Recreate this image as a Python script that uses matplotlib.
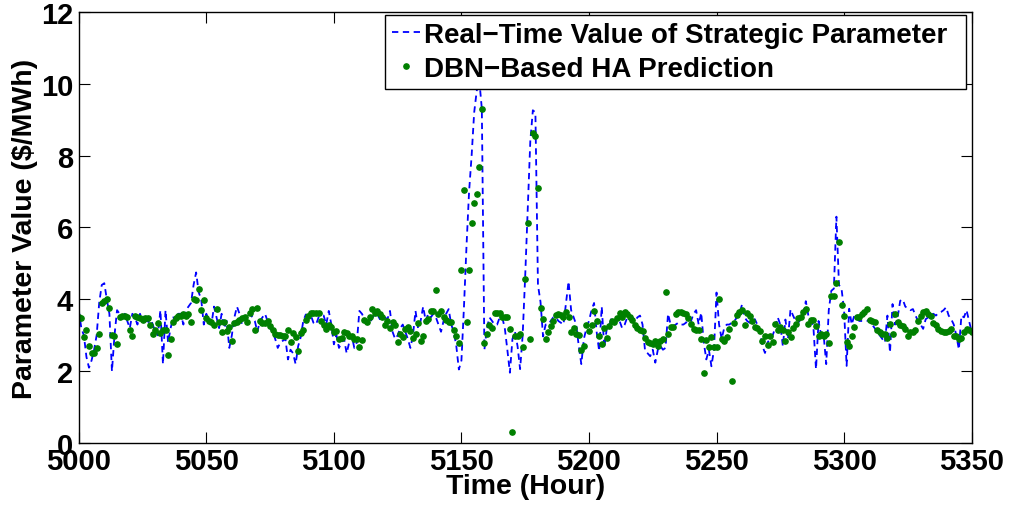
import matplotlib
matplotlib.use("Agg")
from matplotlib import pyplot as plt
import numpy as np

# hours on the x axis
hours = np.arange(5000, 5351)

# real-time value of the strategic parameter, one value per hour
real_value = [
    3.7, 3.2, 3.0, 2.4, 2.1, 2.3, 2.6, 3.0, 3.9, 4.4,
    4.45, 4.0, 3.6, 2.0, 3.0, 3.7, 3.6, 3.5, 3.6, 3.4,
    3.2, 3.6, 3.5, 3.3, 3.6, 3.4, 3.6, 3.3, 3.5, 3.3,
    3.1, 3.0, 3.7, 2.2, 3.7, 2.8, 3.2, 3.5, 3.4, 3.6,
    3.6, 3.3, 3.7, 3.8, 3.9, 4.4, 4.75, 4.2, 4.0, 3.3,
    3.6, 3.4, 3.3, 3.8, 3.5, 3.2, 3.6, 3.2, 3.4, 2.65,
    3.0, 3.5, 3.8, 3.6, 3.3, 3.45, 3.6, 3.65, 3.5, 3.4,
    3.1, 3.4, 3.5, 3.6, 3.4, 3.2, 3.1, 2.9, 2.65, 2.8,
    2.85, 2.9, 2.33, 2.6, 2.5, 2.2, 2.7, 2.95, 3.4, 3.58,
    3.55, 3.55, 3.35, 3.3, 3.5, 3.55, 3.55, 3.3, 3.68, 3.3,
    2.75, 3.0, 2.65, 2.8, 2.9, 2.5, 2.8, 3.0, 2.65, 2.8,
    3.68, 3.6, 3.45, 3.4, 3.3, 3.5, 3.55, 3.6, 3.45, 3.5,
    3.5, 3.45, 3.68, 3.1, 2.9, 3.0, 3.2, 3.3, 3.1, 2.9,
    2.65, 3.0, 3.68, 3.2, 3.4, 3.8, 3.4, 3.6, 3.5, 3.6,
    3.5, 3.3, 3.1, 3.4, 3.6, 3.73, 3.3, 3.1, 2.7, 2.05,
    2.3, 3.8, 5.5, 7.0, 8.0, 9.2, 9.8, 10.1, 9.3, 2.6,
    3.2, 3.5, 3.4, 3.3, 3.3, 3.5, 3.5, 3.2, 2.6, 1.96,
    2.9, 3.1, 2.7, 2.06, 3.0, 4.65, 6.5, 8.4, 9.26, 9.2,
    4.4, 3.93, 2.97, 3.3, 3.3, 3.4, 3.5, 3.5, 3.4, 3.35,
    3.3, 3.9, 4.5, 3.7, 3.5, 3.3, 2.7, 2.2, 2.9, 3.2,
    3.4, 3.7, 3.9, 3.1, 2.56, 3.8, 2.65, 3.2, 3.3, 3.5,
    3.4, 3.5, 3.4, 3.2, 3.3, 3.5, 3.55, 3.5, 3.4, 3.5,
    3.55, 3.3, 2.56, 2.5, 2.42, 2.6, 2.24, 2.6, 2.7, 2.6,
    2.65, 3.6, 3.3, 3.25, 3.3, 3.35, 3.3, 3.3, 3.35, 3.45,
    3.4, 3.6, 3.7, 3.3, 3.63, 2.8, 2.33, 2.6, 2.14, 2.6,
    4.19, 3.3, 2.9, 3.2, 3.3, 3.3, 3.35, 3.4, 3.5, 3.6,
    3.86, 3.5, 3.4, 3.35, 3.4, 3.45, 3.3, 3.1, 2.7, 2.51,
    2.8, 2.9, 3.0, 3.2, 3.5, 3.3, 2.7, 3.44, 2.9, 3.72,
    3.55, 3.4, 3.35, 3.45, 3.6, 3.95, 3.55, 3.5, 3.2, 2.06,
    3.4, 3.0, 3.0, 2.2, 3.7, 4.24, 4.3, 6.3, 4.4, 4.3,
    3.7, 2.15, 3.74, 3.3, 3.55, 3.45, 3.4, 3.4, 3.4, 3.4,
    3.45, 3.3, 3.2, 3.1, 3.0, 2.9, 2.8, 3.55, 2.52, 3.87,
    3.3, 3.5, 3.96, 4.0, 3.8, 3.75, 3.7, 3.73, 3.55, 3.4,
    3.3, 3.18, 3.45, 3.5, 3.55, 3.6, 3.55, 3.62, 3.65, 3.7,
    3.78, 3.55, 3.45, 3.3, 3.0, 2.61, 3.55, 3.5, 3.7, 3.4, 3.1,
]

# hour-ahead prediction from the DBN model
dbn_pred = [
    3.5, 3.47, 2.96, 3.14, 2.7, 2.5, 2.5, 2.64, 3.05, 3.9,
    3.95, 4.0, 3.77, 3.0, 2.98, 2.76, 3.5, 3.55, 3.55, 3.5,
    3.16, 2.98, 3.53, 3.5, 3.47, 3.44, 3.47, 3.47, 3.28, 3.05,
    3.16, 3.33, 3.07, 3.14, 3.16, 2.45, 2.9, 3.37, 3.49, 3.55,
    3.55, 3.58, 3.55, 3.6, 3.37, 4.0, 3.97, 4.28, 3.7, 3.97,
    3.47, 3.41, 3.38, 3.28, 3.72, 3.37, 3.09, 3.38, 3.12, 3.23,
    2.84, 3.33, 3.38, 3.43, 3.48, 3.52, 3.37, 3.61, 3.74, 3.14,
    3.77, 3.4, 3.35, 3.35, 3.39, 3.26, 3.15, 3.03, 3.0, 3.0,
    2.99, 2.98, 3.14, 2.81, 3.07, 2.95, 2.56, 3.07, 3.16, 3.44,
    3.55, 3.63, 3.61, 3.61, 3.61, 3.4, 3.3, 3.18, 3.28, 3.24,
    3.09, 3.12, 2.9, 2.93, 3.09, 3.07, 2.99, 2.98, 2.91, 2.89,
    2.68, 2.87, 3.44, 3.37, 3.51, 3.72, 3.63, 3.67, 3.58, 3.52,
    3.3, 3.4, 3.21, 3.37, 3.28, 2.81, 3.03, 2.95, 3.18, 3.24,
    3.12, 2.92, 3.05, 3.33, 2.85, 2.98, 3.41, 3.46, 3.69, 3.69,
    4.26, 3.6, 3.69, 3.5, 3.43, 3.36, 3.36, 3.16, 2.99, 2.79,
    4.83, 7.05, 3.36, 4.81, 6.12, 6.68, 6.93, 7.68, 9.3, 2.79,
    3.03, 3.28, 3.21, 3.63, 3.63, 3.63, 3.5, 3.5, 3.5, 3.18,
    0.3, 2.98, 2.98, 3.04, 2.67, 4.58, 6.12, 2.89, 8.63, 8.54,
    7.1, 3.76, 3.46, 2.9, 3.1, 3.25, 3.41, 3.56, 3.6, 3.56,
    3.5, 3.65, 3.5, 3.09, 3.2, 3.03, 3.0, 2.59, 2.7, 3.3,
    3.12, 3.29, 3.68, 3.4, 2.98, 2.77, 3.21, 2.93, 3.26, 3.4,
    3.38, 3.49, 3.61, 3.51, 3.66, 3.58, 3.52, 3.42, 3.3, 3.21,
    3.15, 3.12, 2.93, 2.81, 2.79, 2.77, 2.84, 2.7, 2.84, 2.9,
    4.21, 3.04, 3.24, 3.24, 3.58, 3.65, 3.66, 3.61, 3.58, 3.47,
    3.32, 3.18, 3.15, 3.16, 2.9, 1.96, 2.87, 2.67, 2.96, 2.68,
    2.67, 4.0, 2.9, 2.84, 2.95, 3.18, 1.73, 3.35, 3.56, 3.65,
    3.7, 3.28, 3.61, 3.55, 3.41, 3.24, 3.21, 3.12, 2.84, 2.98,
    2.72, 2.98, 2.81, 3.32, 3.16, 3.24, 3.15, 2.84, 3.09, 2.96,
    3.21, 3.32, 3.47, 3.5, 3.65, 3.72, 3.31, 3.43, 3.43, 3.25,
    2.99, 3.04, 2.99, 3.05, 2.8, 4.1, 4.1, 4.46, 5.61, 3.85,
    3.55, 2.82, 2.69, 2.97, 3.22, 3.5, 3.5, 3.59, 3.64, 3.73,
    3.43, 3.4, 3.36, 3.15, 3.08, 3.04, 3.04, 2.92, 3.31, 3.04,
    3.59, 3.38, 3.29, 3.27, 3.18, 2.99, 3.1, 3.08, 3.16, 3.4,
    3.55, 3.65, 3.68, 3.59, 3.53, 3.34, 3.29, 3.18, 3.13, 3.1,
    3.1, 3.13, 3.18, 2.99, 2.97, 2.9, 2.92, 3.08, 3.18, 3.16, 3.1,
]

plt.rcParams['font.family'] = ['Liberation Sans', 'DejaVu Sans']
plt.rcParams['font.weight'] = 'bold'

fig = plt.figure(figsize=(10.1, 5.1), dpi=100)
ax = fig.add_axes([0.078, 0.129, 0.884, 0.846])

ax.plot(hours, real_value, linestyle=(0, (3.5, 2.5)), color='#0000ff', linewidth=1.3,
        label='Real\u2212Time Value of Strategic Parameter')
ax.plot(hours, dbn_pred, linestyle='none', marker='o', markersize=3.8,
        color='#008000', label='DBN\u2212Based HA Prediction')

ax.set_xlim(5000, 5350)
ax.set_ylim(0, 12)
ax.set_xticks(range(5000, 5351, 50))
ax.set_yticks(range(0, 13, 2))
ax.tick_params(direction='in', length=8, width=0.8, top=True, right=True,
               labelsize=21)
ax.tick_params(axis='x', pad=3)
ax.tick_params(axis='y', pad=4)
for s in ax.spines.values():
    s.set_linewidth(1.0)

ax.set_xlabel('Time (Hour)', fontsize=20.5, fontweight='bold', labelpad=-2)
ax.set_ylabel('Parameter Value (\\$/MWh)', fontsize=20.5, fontweight='bold', labelpad=2)

# legend box stretched across the upper right part of the axes
leg = ax.legend(loc='upper left', bbox_to_anchor=(0.343, 0.993, 0.651, 0.0),
                mode='expand', fontsize=20, frameon=True, fancybox=False,
                framealpha=1, edgecolor='black', borderpad=0.25,
                handlelength=1.0, handletextpad=0.15, labelspacing=0.29,
                borderaxespad=0)
leg.get_frame().set_linewidth(1.0)

plt.savefig('out.png', dpi=100)
